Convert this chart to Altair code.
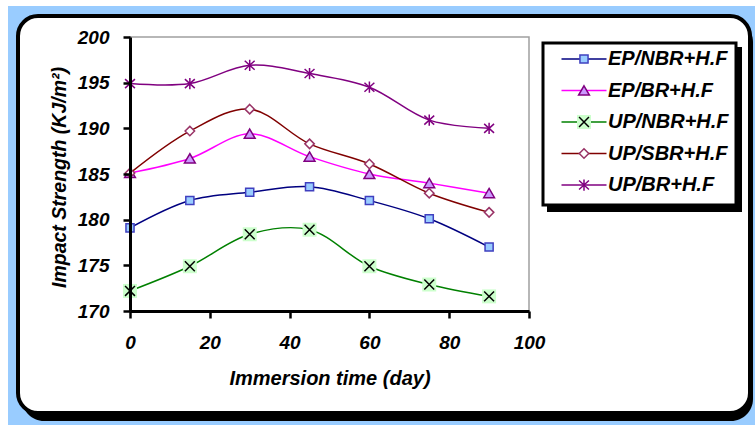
import altair as alt
import pandas as pd

# ---------------- data ----------------
days = [0, 15, 30, 45, 60, 75, 90]
series_names = ["EP/NBR+H.F", "EP/BR+H.F", "UP/NBR+H.F", "UP/SBR+H.F", "UP/BR+H.F"]
ep_nbr = [179.1, 182.1, 183.0, 183.6, 182.1, 180.1, 177.0]
ep_br = [185.1, 186.7, 189.4, 186.9, 185.0, 184.0, 182.9]
up_nbr = [172.2, 174.9, 178.4, 178.9, 174.9, 172.9, 171.6]
up_sbr = [185.1, 189.7, 192.1, 188.3, 186.1, 182.9, 180.8]
up_br = [194.9, 194.9, 196.9, 196.0, 194.5, 190.9, 190.0]
x_ticks = [0, 20, 40, 60, 80, 100]
y_ticks = [170, 175, 180, 185, 190, 195, 200]

series_values = [ep_nbr, ep_br, up_nbr, up_sbr, up_br]
rows = []
for name, vals in zip(series_names, series_values):
    for d, v in zip(days, vals):
        rows.append({"series": name, "day": d, "value": v})
df = pd.DataFrame(rows)
df_halo = df[df["series"] == "UP/NBR+H.F"]

# ---------------- styles ----------------
FONT = "Liberation Sans"
line_colors = ["#000080", "#FF00FF", "#008000", "#800000", "#800080"]
marker_paths = [
    "M-0.9,-0.9H0.9V0.9H-0.9Z",
    "M0,-1.05L1.2,1.0L-1.2,1.0Z",
    "M-1.1,-1.1L1.1,1.1M-1.1,1.1L1.1,-1.1",
    "M0,-1.05L1.05,0L0,1.05L-1.05,0Z",
    "M-1.1,-1.0L1.1,1.0M-1.1,1.0L1.1,-1.0M0,-1.25L0,1.25",
]
marker_fill = ["#99CCFF", "#CC99FF", "transparent", "white", "transparent"]
marker_stroke = ["#4040C0", "#800080", "#000000", "#993366", "#800080"]
halo_fill = ["transparent", "transparent", "#CCFFCC", "transparent", "transparent"]
halo_path = "M-1.55,-1.55H1.55V1.55H-1.55Z"
line_path = "M-5,0L5,0"
SYM = 81

W, H = 399, 274
OX, OY = 130, 37  # page position of plot origin

one = alt.Data(values=[{"k": 1}])


def deco_rect(x, x2, y, y2, **kw):
    return alt.Chart(one).mark_rect(**kw).encode(
        x=alt.value(x - OX), x2=alt.value(x2 - OX),
        y=alt.value(y - OY), y2=alt.value(y2 - OY),
    )


sky = deco_rect(8, 755, 6, 425, color="#99CCFF")
frame_shadow = deco_rect(22, 753, 20, 421, color="black", cornerRadius=22)
frame = deco_rect(18, 750, 16, 413, fill="white", stroke="black", strokeWidth=4, cornerRadius=20)
plot_border = deco_rect(OX, OX + W, OY, OY + H, fill="transparent", stroke="#A0A0A0", strokeWidth=1.5)
legend_shadow = deco_rect(547, 742, 47, 212, color="black")
legend_frame = deco_rect(543, 736, 43, 205, fill="white", stroke="black", strokeWidth=3)

x_enc = alt.X(
    "day:Q",
    scale=alt.Scale(domain=[0, 100], nice=False),
    title="Immersion time (day)",
    axis=alt.Axis(
        values=x_ticks, format="d", labelFlush=False, labelOverlap=False, grid=False,
        domainColor="black", domainWidth=3, tickColor="black", tickWidth=2.5, tickSize=7,
        labelPadding=15, labelFont=FONT, labelFontSize=19, labelFontWeight="bold",
        labelFontStyle="italic", labelColor="black",
        titleFont=FONT, titleFontSize=20, titleFontWeight="bold", titleFontStyle="italic",
        titleColor="black", titleY=73, titleBaseline="alphabetic", zindex=1,
    ),
)
y_enc = alt.Y(
    "value:Q",
    scale=alt.Scale(domain=[170, 200], nice=False, zero=False),
    title="Impact Strength (KJ/m²)",
    axis=alt.Axis(
        values=y_ticks, labelFlush=False, labelOverlap=False, grid=False,
        domainColor="black", domainWidth=3, tickColor="black", tickWidth=2.5, tickSize=7,
        labelPadding=14, labelFont=FONT, labelFontSize=19, labelFontWeight="bold",
        labelFontStyle="italic", labelColor="black",
        titleFont=FONT, titleFontSize=19.5, titleFontWeight="bold", titleFontStyle="italic",
        titleColor="black", titleAngle=270, titleX=-65, titleY=140, titleAlign="center",
        titleBaseline="alphabetic", zindex=1,
    ),
)


def make_legend(symbol_type=None, show_labels=True, stroke_color=None):
    kw = dict(
        title=None, orient="none", legendX=444, legendY=12, symbolSize=SYM,
        symbolStrokeWidth=1.5, labelFont=FONT, labelFontSize=20, labelFontWeight="bold",
        labelFontStyle="italic", labelColor="black",
        labelOffset=14, rowPadding=11.5, padding=0, labelLimit=300,
    )
    if not show_labels:
        kw["labelExpr"] = "' '"
    if symbol_type is not None:
        kw["symbolType"] = symbol_type
    if stroke_color is not None:
        kw["symbolStrokeColor"] = stroke_color
    return alt.Legend(**kw)


lines = alt.Chart(df).mark_line(interpolate="catmull-rom", strokeWidth=1.5).encode(
    x=x_enc, y=y_enc,
    stroke=alt.Stroke("series:N", scale=alt.Scale(domain=series_names, range=line_colors),
                      legend=make_legend(line_path, True)),
)

halo = alt.Chart(df_halo).mark_point(filled=True, size=SYM, shape=halo_path, strokeWidth=0, opacity=1).encode(
    x=x_enc, y=y_enc,
    fill=alt.Fill("series:N", scale=alt.Scale(domain=series_names, range=halo_fill),
                  legend=make_legend(halo_path, False, "transparent")),
)

leg_b = make_legend(None, False)
markers = alt.Chart(df).mark_point(filled=True, size=SYM, strokeWidth=1.5, opacity=1).encode(
    x=x_enc, y=y_enc,
    shape=alt.Shape("series:N", scale=alt.Scale(domain=series_names, range=marker_paths), legend=leg_b),
    fill=alt.Fill("series:N", scale=alt.Scale(domain=series_names, range=marker_fill), legend=leg_b),
    stroke=alt.Stroke("series:N", scale=alt.Scale(domain=series_names, range=marker_stroke), legend=leg_b),
)

chart = alt.layer(
    sky, frame_shadow, frame, plot_border, legend_shadow, legend_frame, lines, halo, markers
).resolve_scale(
    stroke="independent", fill="independent", shape="independent"
).properties(
    width=W, height=H,
    autosize=alt.AutoSizeParams(type="none"),
    padding={"left": OX, "top": OY, "right": 755 - OX - W, "bottom": 425 - OY - H},
).configure(background="white").configure_view(stroke=None)

chart.save("out.html", embed_options={"renderer": "svg", "actions": False})
